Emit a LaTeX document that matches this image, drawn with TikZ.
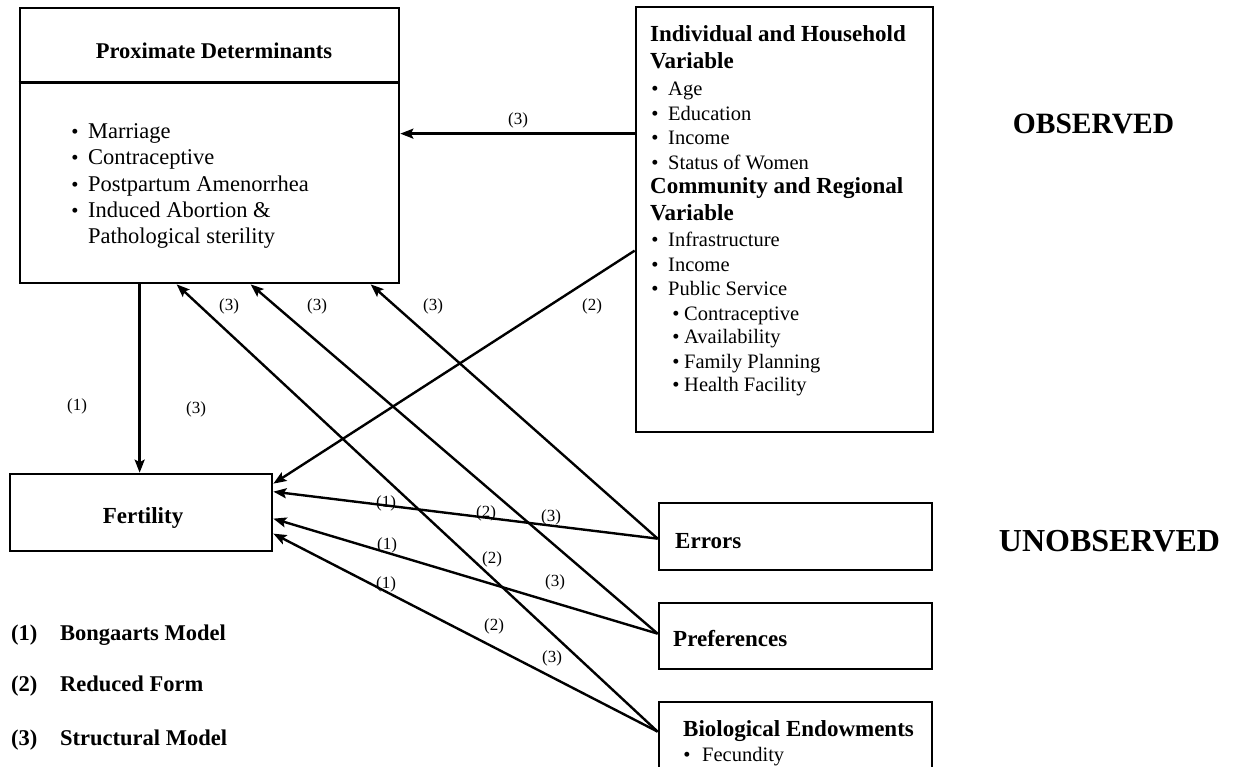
\documentclass[tikz,border=0pt]{standalone}
\usepackage{fontspec}
\setmainfont{Liberation Serif}
\usetikzlibrary{arrows.meta,calc}
\begin{document}
\begin{tikzpicture}[x=1pt,y=-1pt,
  box/.style={draw,line width=2.7pt,inner sep=0pt},
  conn/.style={line width=2.4pt,-{Stealth[length=13pt,width=10pt,inset=2.5pt]}},
  even/.style={inner sep=0pt,text height=18pt,text depth=1pt},
  lbl/.style={inner sep=0pt,text height=14pt,text depth=1pt,font=\fontsize{17}{19}\selectfont},
  head/.style={even,anchor=west,font=\bfseries\fontsize{23}{26}\selectfont},
  item/.style={even,anchor=west,font=\fontsize{22.5}{26}\selectfont},
  sitem/.style={even,anchor=west,font=\fontsize{20.5}{24}\selectfont},
  bul/.style={even,font=\fontsize{20.5}{24}\selectfont},
  big/.style={inner sep=0pt,text height=24pt,text depth=1pt,font=\bfseries\fontsize{29.5}{32}\selectfont},
  leg/.style={even,anchor=west,font=\bfseries\fontsize{22.5}{26}\selectfont}]
\useasboundingbox (0,0) rectangle (1236,767);
\clip (0,0) rectangle (1236,767);

% boxes
\node[box,minimum width=379pt,minimum height=275pt] (prox) at (209.5,145.5) {};
\draw[line width=2.7pt] ($(prox.north west)+(0,76)$) -- ($(prox.north east)+(0,76)$);
\node[box,minimum width=297pt,minimum height=425pt] (obs) at (784.5,219.5) {};
\node[box,minimum width=262pt,minimum height=77pt] (fert) at (141,512.5) {};
\node[box,minimum width=273pt,minimum height=67pt] (err) at (795.5,536.5) {};
\node[box,minimum width=273pt,minimum height=66pt] (pref) at (795.5,636) {};
\node[box,minimum width=273pt,minimum height=88pt] (bio) at (795.5,746) {};

% proximate determinants
\node[even,font=\bfseries\fontsize{22.5}{26}\selectfont] (proxT) at (214,50) {Proximate Determinants};
\foreach \yy/\tt [count=\i] in {130/Marriage,156/Contraceptive,183/Postpartum Amenorrhea,209/Induced Abortion \&}{
  \node[bul] (pb\i) at (75,\yy) {\textbullet};
  \node[item] (pt\i) at (88,\yy) {\tt};
}
\node[item] (pt5) at (88,235) {Pathological sterility};

% observed variables
\node[head] (h1) at (650,33) {Individual and Household};
\node[head] (h2) at (650,60) {Variable};
\foreach \yy/\tt [count=\i] in {87/Age,112/Education,136/Income,161/Status of Women,238/Infrastructure,263/Income,287/Public Service}{
  \node[bul] (ob\i) at (655,\yy) {\textbullet};
  \node[sitem] (ot\i) at (668,\yy) {\tt};
}
\node[head] (h3) at (650,185) {Community and Regional};
\node[head] (h4) at (650,212) {Variable};
\foreach \yy/\tt [count=\i] in {312/Contraceptive,335/Availability,360/Family Planning,383/Health Facility}{
  \node[bul] (sb\i) at (676,\yy) {\textbullet};
  \node[sitem] (st\i) at (684,\yy) {\tt};
}

% fertility and unobserved factors
\node[even,font=\bfseries\fontsize{23}{26}\selectfont] (fertT) at (143,515) {Fertility};
\node[head] (errT) at (675,540) {Errors};
\node[head] (prefT) at (673,638) {Preferences};
\node[head] (bioT) at (683,728) {Biological Endowments};
\node[bul] (fb) at (687,753) {\textbullet};
\node[sitem] (fecT) at (702,753) {Fecundity};

\node[big] (obsT) at (1093.5,122) {OBSERVED};
\node[big,font=\bfseries\fontsize{32}{34}\selectfont] (unobsT) at (1109.5,540) {UNOBSERVED};

% legend
\foreach \yy/\nn/\tt [count=\i] in {632/(1)/Bongaarts Model,683/(2)/Reduced Form,737/(3)/Structural Model}{
  \node[leg] (ln\i) at (11,\yy) {\nn};
  \node[leg] (lt\i) at (60,\yy) {\tt};
}

% connectors
\draw[conn] ([xshift=121pt]prox.south west) -- ([xshift=131pt]fert.north west);
\draw[conn] ([yshift=-128pt]obs.north west) -- ([yshift=-127pt]prox.north east);
\draw[conn] ([yshift=-245pt]obs.north west) -- ([yshift=-11pt]fert.north east);
\draw[conn] ([yshift=-37pt]err.north west) -- ([yshift=-19pt]fert.north east);
\draw[conn] ([yshift=-37pt]err.north west) -- ([xshift=352pt]prox.south west);
\draw[conn] ([yshift=-32pt]pref.north west) -- ([yshift=-46pt]fert.north east);
\draw[conn] ([yshift=-32pt]pref.north west) -- ([xshift=232pt]prox.south west);
\draw[conn] ([yshift=-31pt]bio.north west) -- ([yshift=-61pt]fert.north east);
\draw[conn] ([yshift=-31pt]bio.north west) -- ([xshift=158pt]prox.south west);

% path labels
\foreach \xx/\yy/\tt [count=\i] in {518/118/(3),592/304/(2),229/304/(3),317/304/(3),433/304/(3),
  77/404/(1),196/407/(3),386/501/(1),486/511/(2),551/515/(3),387/543/(1),492/557/(2),555/580/(3),
  386/582/(1),494/624/(2),552/656/(3)}{
  \node[lbl] (lab\i) at (\xx,\yy) {\tt};
}
\end{tikzpicture}
\end{document}
